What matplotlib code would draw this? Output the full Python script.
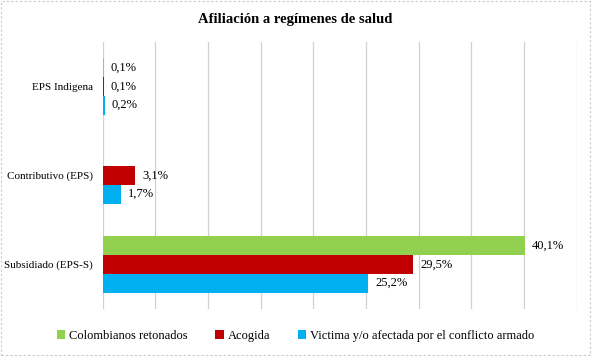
import numpy as np
import matplotlib.pyplot as plt
from matplotlib.patches import Rectangle

plt.rcParams['font.family'] = ['Liberation Serif', 'DejaVu Serif']

categorias = ["Subsidiado (EPS-S)", "Contributivo (EPS)", "EPS Indigena"]
series = ["Colombianos retonados", "Acogida", "Victima y/o afectada por el conflicto armado"]
retornados = [40.1, 0.0, 0.1]
acogida = [29.5, 3.1, 0.1]
victima = [25.2, 1.7, 0.2]
etiquetas_ret = ["40,1%", "", "0,1%"]
etiquetas_aco = ["29,5%", "3,1%", "0,1%"]
etiquetas_vic = ["25,2%", "1,7%", "0,2%"]

colores = ["#92d050", "#c00000", "#00b0f0"]

fig = plt.figure(figsize=(5.91, 3.56), dpi=100)
ax = fig.add_axes([102.7 / 591, 1 - 309 / 356, (576.7 - 102.7) / 591, (309 - 42) / 356])

y = np.arange(len(categorias))
h = 0.21
datos = [(retornados, etiquetas_ret, h), (acogida, etiquetas_aco, 0), (victima, etiquetas_vic, -h)]
for (vals, labs, off), nombre, c in zip(datos, series, colores):
    rects = ax.barh(y + off, vals, h, color=c, label=nombre)
    ax.bar_label(rects, labels=labs, padding=5, fontsize=9)

ax.set_xlim(0, 45)
ax.set_ylim(-0.5, 2.5)
ax.set_xticks(np.arange(0, 46, 5))
ax.set_xticklabels([])
ax.tick_params(axis='x', length=0)
ax.tick_params(axis='y', length=0, labelsize=8, pad=7)
ax.set_yticks(y, categorias)
ax.grid(axis='x', color='#d0d0d0', linewidth=0.9)
ax.set_axisbelow(True)
for s in ax.spines.values():
    s.set_visible(False)

fig.text(0.5, 1 - 19 / 356, "Afiliación a regímenes de salud", ha='center', va='center',
         fontsize=10.5, fontweight='bold')

fig.legend(loc='center', bbox_to_anchor=(0.5, 1 - 336 / 356), ncols=3, frameon=False,
           fontsize=9, handlelength=0.7, handleheight=0.7, handletextpad=0.3, columnspacing=2.2)

fig.patches.append(Rectangle((0.002, 0.002), 0.996, 0.994, transform=fig.transFigure,
                             fill=False, edgecolor='#c8c8c8', linestyle=(0, (2, 2)), linewidth=0.8))

plt.savefig("out.png", dpi=100)
